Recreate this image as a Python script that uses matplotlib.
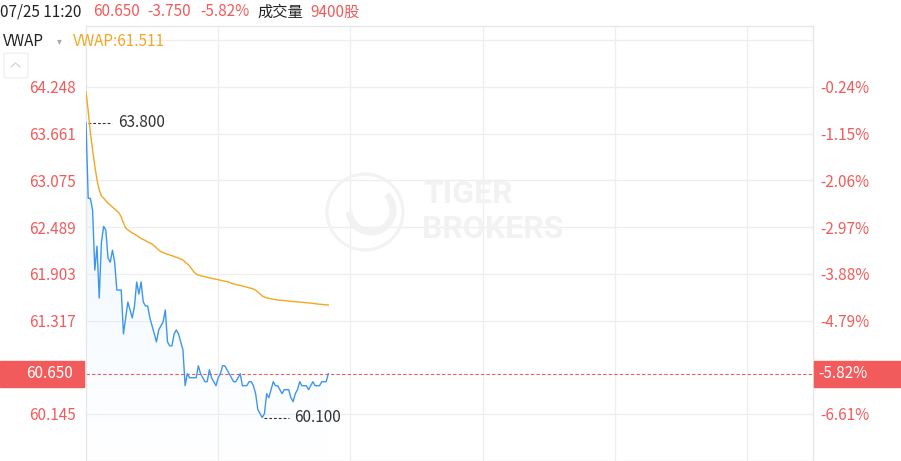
"""Intraday VWAP chart (HK session, 07/25 up to 11:20)."""

import matplotlib

matplotlib.use("Agg")
import matplotlib.pyplot as plt
import numpy as np
from matplotlib.colors import to_rgb
from matplotlib.patches import Circle, Arc, FancyBboxPatch, Rectangle

plt.rcParams["font.family"] = ["Noto Sans CJK SC", "DejaVu Sans"]

W, H = 901, 461

PREV_CLOSE = 64.40
SESSION_MINUTES = 330  # 09:30-12:00 + 13:00-16:00

# minute-by-minute last price from 09:30
price = [
    63.80, 62.85, 62.85, 62.70, 61.95, 62.25, 61.60, 62.30, 62.50, 62.45,
    62.10, 62.05, 62.20, 62.05, 61.70, 61.70, 61.70, 61.15, 61.35, 61.55,
    61.45, 61.35, 61.50, 61.80, 61.65, 61.80, 61.55, 61.50, 61.50, 61.35,
    61.25, 61.15, 61.05, 61.20, 61.25, 61.30, 61.45, 61.05, 61.00, 61.00,
    61.15, 61.20, 61.15, 61.05, 60.95, 60.50, 60.65, 60.60, 60.60, 60.60,
    60.60, 60.75, 60.65, 60.60, 60.55, 60.55, 60.70, 60.60, 60.55, 60.50,
    60.60, 60.65, 60.75, 60.75, 60.70, 60.65, 60.60, 60.55, 60.55, 60.60,
    60.65, 60.50, 60.50, 60.50, 60.55, 60.55, 60.50, 60.40, 60.20, 60.15,
    60.10, 60.15, 60.40, 60.35, 60.45, 60.55, 60.50, 60.50, 60.45, 60.40,
    60.45, 60.45, 60.45, 60.35, 60.30, 60.40, 60.45, 60.55, 60.50, 60.50,
    60.50, 60.45, 60.50, 60.55, 60.50, 60.50, 60.50, 60.55, 60.55, 60.55,
    60.65,
]

vwap = [
    64.189, 63.947, 63.671, 63.457, 63.257, 63.081, 62.956, 62.880, 62.855, 62.818,
    62.792, 62.767, 62.742, 62.717, 62.692, 62.667, 62.617, 62.541, 62.479, 62.454,
    62.435, 62.416, 62.403, 62.385, 62.366, 62.347, 62.334, 62.322, 62.303, 62.291,
    62.278, 62.253, 62.228, 62.203, 62.181, 62.171, 62.159, 62.149, 62.140, 62.131,
    62.121, 62.111, 62.102, 62.090, 62.077, 62.052, 62.027, 62.002, 61.964, 61.927,
    61.902, 61.889, 61.880, 61.873, 61.868, 61.861, 61.854, 61.848, 61.841, 61.836,
    61.830, 61.824, 61.817, 61.811, 61.806, 61.797, 61.786, 61.776, 61.770, 61.763,
    61.757, 61.751, 61.743, 61.736, 61.728, 61.722, 61.713, 61.697, 61.676, 61.651,
    61.625, 61.613, 61.603, 61.595, 61.590, 61.585, 61.580, 61.577, 61.573, 61.570,
    61.568, 61.565, 61.561, 61.559, 61.556, 61.554, 61.551, 61.549, 61.546, 61.544,
    61.541, 61.539, 61.536, 61.533, 61.529, 61.525, 61.523, 61.520, 61.518, 61.515,
    61.511,
]

price_ticks = [64.248, 63.661, 63.075, 62.489, 61.903, 61.317, 60.145]
pct_labels = ["-0.24%", "-1.15%", "-2.06%", "-2.97%", "-3.88%", "-4.79%", "-6.61%"]
extra_grid = [64.834, 59.559]
time_grid = [60, 120, 180, 240, 300]

header_time = "07/25 11:20"
header_last = "60.650"
header_change = "-3.750"
header_pct = "-5.82%"
header_volume = "9400股"

RED = "#f25b5b"
BLUE = "#3c96f0"
ORANGE = "#f5a623"
GRID = "#eeeeee"
DARK = "#222222"
FS = 11


def fx(x):
    return x / W


def fy(y):
    return 1 - y / H


fig = plt.figure(figsize=(W / 100, H / 100), dpi=100)
ax = fig.add_axes([fx(86), 0, 727 / W, 435 / H])

minutes = np.arange(len(price))
price = np.array(price)
vwap = np.array(vwap)

ymin, ymax = 59.555, 65.0134
ax.set_xlim(0, SESSION_MINUTES)
ax.set_ylim(ymin, ymax)

ax.set_yticks(price_ticks)
ax.set_yticks(extra_grid, minor=True)
ax.set_yticklabels([f"{v:.3f}" for v in price_ticks])
ax.set_xticks(time_grid)
ax.set_xticklabels([])
ax.tick_params(axis="both", which="both", length=0)
ax.tick_params(axis="y", colors=RED, labelsize=FS, pad=7)
ax.grid(True, which="both", color=GRID, lw=0.9)
ax.set_axisbelow(True)
for side in ["left", "right", "top"]:
    ax.spines[side].set_color("#e6e6e6")
    ax.spines[side].set_linewidth(0.9)
ax.spines["bottom"].set_visible(False)

ax2 = ax.twinx()
ax2.set_ylim(ax.get_ylim())
ax2.set_yticks(price_ticks)
ax2.set_yticklabels(pct_labels)
ax2.tick_params(axis="y", length=0, colors=RED, labelsize=FS, pad=5)
for side in ax2.spines:
    ax2.spines[side].set_visible(False)

# watermark (pixel coordinates)
wm = "#f2f2f2"
fig.patches.append(Circle((365, H - 212), 38, transform=None, fill=False,
                          ec=wm, lw=2.2, zorder=0.5))
fig.patches.append(Arc((371, H - 210), 44, 44, theta1=-175, theta2=45,
                       transform=None, ec=wm, lw=5, zorder=0.5))
fig.text(fx(423), fy(194), "TIGER", family="Roboto", fontweight="bold",
         fontsize=23, color=wm, va="center", ha="left", zorder=0.5)
fig.text(fx(422), fy(229), "BROKERS", family="Roboto", fontweight="bold",
         fontsize=23, color=wm, va="center", ha="left", zorder=0.5)

# gradient area under the price line
area = ax.fill_between(minutes, price, ymin, color="none", lw=0)
grad = np.zeros((256, 1, 4))
grad[..., :3] = to_rgb("#dcefff")
grad[..., 3] = np.linspace(0.0, 0.55, 256)[:, None]
img = ax.imshow(grad, extent=[0, minutes[-1], ymin, price.max()], origin="lower",
                aspect="auto", zorder=1)
img.set_clip_path(area.get_paths()[0], transform=ax.transData)

ax.plot(minutes, price, color=BLUE, lw=1.0, zorder=3)
ax.plot(minutes, vwap, color=ORANGE, lw=1.0, zorder=3)
ax.set_xlim(0, SESSION_MINUTES)
ax.set_ylim(ymin, ymax)

last = price[-1]
ax.axhline(last, color="#e46060", lw=0.8, dashes=(3, 2), zorder=2)

# high / low markers
for idx in (int(np.argmax(price)), int(np.argmin(price))):
    ax.plot([idx + 1, idx + 12], [price[idx]] * 2, color="#333333", lw=0.8,
            dashes=(2.5, 1.8))
    ax.text(idx + 14.5, price[idx], f"{price[idx]:.3f}", color="#333333",
            fontsize=FS, va="center", ha="left")

# current price tags
fig.canvas.draw()
_, ypix = ax.transData.transform((0, last))
tag_h = 26
fig.patches.append(Rectangle((0, ypix - tag_h / 2), 84, tag_h, transform=None,
                             color=RED, zorder=5))
fig.patches.append(Rectangle((814, ypix - tag_h / 2), 87, tag_h, transform=None,
                             color=RED, zorder=5))
fig.text(fx(73), ypix / H, f"{last:.3f}", color="white", fontsize=FS,
         ha="right", va="center", zorder=6)
fig.text(fx(818), ypix / H, header_pct, color="white", fontsize=FS,
         ha="left", va="center", zorder=6)

# header rows
fig.text(fx(0), fy(12), header_time, color=DARK, fontsize=FS, va="center")
fig.text(fx(93), fy(12), header_last, color=RED, fontsize=FS, va="center")
fig.text(fx(147), fy(12), header_change, color=RED, fontsize=FS, va="center")
fig.text(fx(200), fy(12), header_pct, color=RED, fontsize=FS, va="center")
fig.text(fx(257), fy(12), "成交量", color=DARK, fontsize=FS, va="center")
fig.text(fx(310), fy(12), header_volume, color=RED, fontsize=FS, va="center")

fig.text(fx(3), fy(41), "VWAP", color=DARK, fontsize=FS, va="center")
fig.text(fx(57), fy(41), "▾", color="#aaaaaa", fontsize=7, va="center",
         family="DejaVu Sans")
fig.text(fx(73), fy(41), f"VWAP:{vwap[-1]:.3f}", color=ORANGE, fontsize=FS,
         va="center")

# collapse button
fig.patches.append(FancyBboxPatch((fx(4), fy(78)), 24 / W, 25 / H,
                                  boxstyle="round,pad=0,rounding_size=0.004",
                                  transform=fig.transFigure, fc="white",
                                  ec="#eeeeee", lw=0.9))
fig.lines.append(plt.Line2D([fx(11), fx(15.5), fx(20)], [fy(67), fy(63), fy(67)],
                            transform=fig.transFigure, color="#d6d6d6", lw=1.0))

fig.savefig("out.png", dpi=100)
